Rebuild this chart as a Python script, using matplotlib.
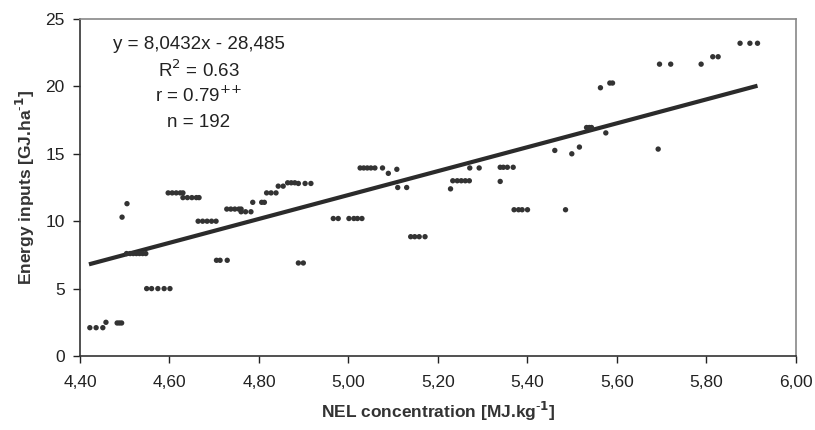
import matplotlib
matplotlib.use("Agg")
import matplotlib.pyplot as plt
import numpy as np

plt.rcParams['font.family'] = ['Liberation Sans', 'DejaVu Sans']

# NEL concentration [MJ/kg] and energy inputs [GJ/ha]
nel = [4.422, 4.436, 4.451, 4.458, 4.483, 4.488, 4.493,
       4.494, 4.505,
       4.504, 4.512, 4.519, 4.526, 4.533, 4.540, 4.547,
       4.549, 4.560, 4.574, 4.588, 4.601,
       4.597, 4.606, 4.615, 4.624, 4.630,
       4.630, 4.640, 4.650, 4.660, 4.666,
       4.664, 4.674, 4.684, 4.694, 4.704,
       4.705, 4.713, 4.729,
       4.728, 4.737, 4.746, 4.755, 4.760,
       4.760, 4.770, 4.782,
       4.786, 4.806, 4.812,
       4.817, 4.827, 4.838,
       4.843, 4.854,
       4.864, 4.872, 4.880, 4.888,
       4.903, 4.916,
       4.888, 4.899,
       4.966, 4.977,
       5.001, 5.012, 5.020, 5.030,
       5.026, 5.034, 5.042, 5.050, 5.059,
       5.076, 5.089, 5.108,
       5.110, 5.130,
       5.139, 5.148, 5.158, 5.171,
       5.228,
       5.233, 5.243, 5.252, 5.261, 5.270,
       5.271, 5.292,
       5.339, 5.346, 5.355, 5.368,
       5.339,
       5.370, 5.380, 5.388, 5.400,
       5.461, 5.485, 5.499, 5.516,
       5.532, 5.538, 5.543,
       5.563, 5.575, 5.584, 5.590,
       5.692, 5.695, 5.720, 5.788,
       5.814, 5.826,
       5.875, 5.897, 5.914]
energy = [2.1, 2.1, 2.1, 2.5, 2.45, 2.45, 2.45,
          10.3, 11.3,
          7.6, 7.6, 7.6, 7.6, 7.6, 7.6, 7.6,
          5.0, 5.0, 5.0, 5.0, 5.0,
          12.1, 12.1, 12.1, 12.1, 12.1,
          11.75, 11.75, 11.75, 11.75, 11.75,
          10.0, 10.0, 10.0, 10.0, 10.0,
          7.1, 7.1, 7.1,
          10.9, 10.9, 10.9, 10.9, 10.9,
          10.7, 10.7, 10.7,
          11.4, 11.4, 11.4,
          12.1, 12.1, 12.1,
          12.6, 12.6,
          12.85, 12.85, 12.85, 12.8,
          12.8, 12.8,
          6.9, 6.9,
          10.2, 10.2,
          10.2, 10.2, 10.2, 10.2,
          13.95, 13.95, 13.95, 13.95, 13.95,
          13.95, 13.55, 13.85,
          12.5, 12.5,
          8.85, 8.85, 8.85, 8.85,
          12.4,
          13.0, 13.0, 13.0, 13.0, 13.0,
          13.95, 13.95,
          14.0, 14.0, 14.0, 14.0,
          12.95,
          10.85, 10.85, 10.85, 10.85,
          15.25, 10.85, 15.0, 15.5,
          16.95, 16.95, 16.95,
          19.9, 16.55, 20.25, 20.25,
          15.35, 21.65, 21.65, 21.65,
          22.2, 22.2,
          23.2, 23.2, 23.2]

# trend line as drawn (end points)
trend_x = [4.42, 5.914]
trend_y = [6.8, 20.05]

x_ticks = [4.40, 4.60, 4.80, 5.00, 5.20, 5.40, 5.60, 5.80, 6.00]
x_tick_labels = ["4,40", "4,60", "4,80", "5,00", "5,20", "5,40", "5,60", "5,80", "6,00"]
y_ticks = [0, 5, 10, 15, 20, 25]

stats_lines = ["y = 8,0432x - 28,485", r"R$^{2}$ = 0.63", r"r = 0.79$^{{+}{+}}$", "n = 192"]

fig = plt.figure(figsize=(8.15, 4.30), dpi=100)
ax = fig.add_axes([80/815, 1 - 356/430, (796-80)/815, (356-19)/430])

ax.scatter(nel, energy, s=15, color='#333333', edgecolors='none', zorder=3)
ax.plot(trend_x, trend_y, color='#2b2b2b', lw=3, solid_capstyle='butt', zorder=2)

ax.set_xlim(4.40, 6.00)
ax.set_ylim(0, 25)
ax.set_xticks(x_ticks)
ax.set_xticklabels(x_tick_labels)
ax.set_yticks(y_ticks)
ax.tick_params(axis='both', direction='out', length=5, width=1, colors='#222222',
               labelsize=12.5, pad=6)
ax.tick_params(axis='x', pad=9)

for side in ['left', 'bottom']:
    ax.spines[side].set_color('#333333')
    ax.spines[side].set_linewidth(1.2)
for side in ['top', 'right']:
    ax.spines[side].set_color('#888888')
    ax.spines[side].set_linewidth(1.2)

ax.set_xlabel("NEL concentration [MJ.kg$^{\\mathbf{\\text{-}1}}$]", fontsize=12.5,
              fontweight='bold', color='#333333', labelpad=7)
ax.set_ylabel("Energy inputs [GJ.ha$^{\\mathbf{\\text{-}1}}$]", fontsize=12.5,
              fontweight='bold', color='#333333', labelpad=6)

for i, s in enumerate(stats_lines):
    ax.text(0.166, 0.925 - i * 0.077, s, transform=ax.transAxes, ha='center',
            va='center', fontsize=13.5, color='#222222')

fig.savefig("out.png", dpi=100, facecolor='white')
